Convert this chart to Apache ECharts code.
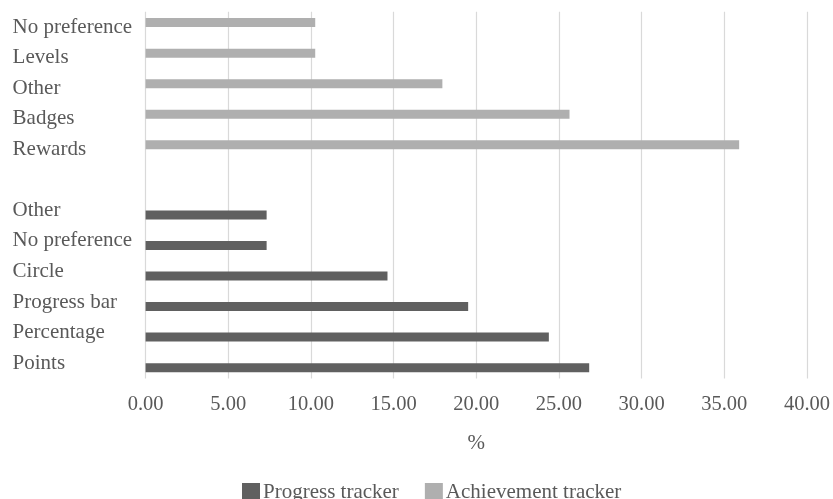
<!DOCTYPE html>
<html>
<head>
<meta charset="utf-8">
<style>
  html, body { margin: 0; padding: 0; background: #ffffff; }
  #chart { width: 833px; height: 499px; }
</style>
<script src="https://cdn.jsdelivr.net/npm/echarts@6/dist/echarts.min.js"></script>
</head>
<body>
<div id="chart"></div>
<script>
// Achievement tracker preferences (upper group, top to bottom)
const achievementLabels = ['No preference', 'Levels', 'Other', 'Badges', 'Rewards'];
const achievementValues = [10.26, 10.26, 17.95, 25.64, 35.90];

// Progress tracker preferences (lower group, top to bottom)
const progressLabels = ['Other', 'No preference', 'Circle', 'Progress bar', 'Percentage', 'Points'];
const progressValues = [7.32, 7.32, 14.63, 19.51, 24.39, 26.83];

// Value axis range and step
const xMin = 0;
const xMax = 40;
const xStep = 5;

const seriesNames = ['Progress tracker', 'Achievement tracker'];

// One blank row separates the two groups
const categories = [...achievementLabels, '', ...progressLabels];
const blanks = n => Array(n).fill('-');
const achievementData = [...achievementValues, ...blanks(1 + progressLabels.length)];
const progressData = [...blanks(achievementLabels.length + 1), ...progressValues];

const FONT = "'Liberation Serif', 'Times New Roman', serif";
const TEXT = '#595959';

const chart = echarts.init(document.getElementById('chart'), null, { renderer: 'canvas' });
chart.setOption({
  animation: false,
  backgroundColor: '#ffffff',
  textStyle: { fontFamily: FONT, color: TEXT },
  grid: { left: 145.6, right: 23.6, top: 11.8, bottom: 120.6, containLabel: false },
  legend: {
    data: seriesNames,
    left: 237,
    top: 474,
    icon: 'rect',
    itemWidth: 18,
    itemHeight: 18,
    itemGap: 26,
    textStyle: { fontFamily: FONT, fontSize: 21, lineHeight: 18, color: TEXT, padding: [8, 0, 0, -2] }
  },
  xAxis: {
    type: 'value',
    min: xMin,
    max: xMax,
    interval: xStep,
    name: '%',
    nameLocation: 'middle',
    nameGap: 55,
    nameTextStyle: { fontFamily: FONT, fontSize: 21, color: TEXT },
    axisLine: { show: false },
    axisTick: { show: false },
    axisLabel: {
      margin: 16,
      fontFamily: FONT,
      fontSize: 20.5,
      color: TEXT,
      formatter: v => v.toFixed(2)
    },
    splitLine: { show: true, lineStyle: { color: '#d9d9d9', width: 1.2 } }
  },
  yAxis: {
    type: 'category',
    inverse: true,
    data: categories,
    axisLine: { show: false },
    axisTick: { show: false },
    axisLabel: {
      align: 'left',
      verticalAlign: 'middle',
      margin: 133,
      fontFamily: FONT,
      fontSize: 21,
      color: TEXT,
      interval: 0,
      padding: [5, 0, 0, 0]
    },
    splitLine: { show: false }
  },
  series: [
    {
      name: 'Achievement tracker',
      type: 'bar',
      data: achievementData,
      barWidth: 9,
      barGap: '0%',
      itemStyle: { color: '#afafaf' }
    },
    {
      name: 'Progress tracker',
      type: 'bar',
      data: progressData,
      barWidth: 9,
      barGap: '0%',
      itemStyle: { color: '#606060' }
    }
  ]
});
</script>
</body>
</html>
